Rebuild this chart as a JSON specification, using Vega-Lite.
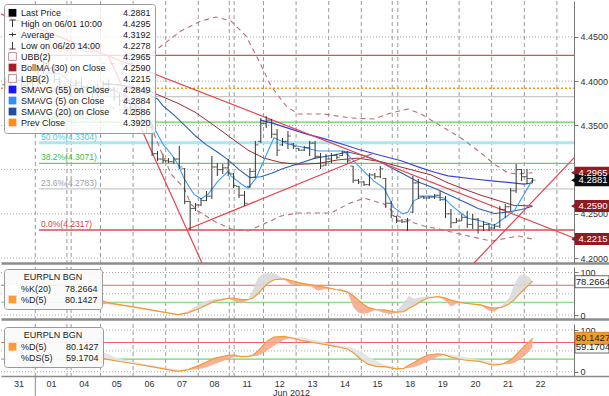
{
"$schema":"https://vega.github.io/schema/vega-lite/v6.json",
"padding":0,
"background":"white",
"spacing":2,
"config":{"view":{"stroke":null},"font":"Liberation Sans","axis":{"labelFont":"Liberation Sans","labelFontSize":9,"labelColor":"#333","titleFont":"Liberation Sans","titleFontSize":9,"titleFontWeight":"normal","titleColor":"#333","domainColor":"#777","tickColor":"#777","grid":false,"labelOverlap":false},"legend":{"labelFont":"Liberation Sans","titleFont":"Liberation Sans"}},
"resolve":{"scale":{"x":"independent","y":"independent","color":"independent","shape":"independent","stroke":"independent","fill":"independent"}},
"datasets":{
"vg":[{"t":1},{"t":1.97},{"t":2.1},{"t":3},{"t":4},{"t":5},{"t":6},{"t":6.95},{"t":7.1},{"t":8},{"t":9},{"t":10},{"t":11},{"t":11.95},{"t":12.12},{"t":13},{"t":14},{"t":15},{"t":16},{"t":17}],
"days":[{"t":0.5,"d":"31"},{"t":1.5,"d":"01"},{"t":2.5,"d":"04"},{"t":3.5,"d":"05"},{"t":4.5,"d":"06"},{"t":5.5,"d":"07"},{"t":6.5,"d":"08"},{"t":7.5,"d":"11"},{"t":8.5,"d":"12"},{"t":9.5,"d":"13"},{"t":10.5,"d":"14"},{"t":11.5,"d":"15"},{"t":12.5,"d":"18"},{"t":13.5,"d":"19"},{"t":14.5,"d":"20"},{"t":15.5,"d":"21"},{"t":16.5,"d":"22"}],
"hg":[{"p":4.2},{"p":4.25},{"p":4.3},{"p":4.35},{"p":4.4},{"p":4.45}],
"sg":[{"v":0},{"v":50},{"v":100}],
"lv":[{"v":70,"z":"hi"},{"v":30,"z":"lo"}],
"fib":[{"lvl":"100.0%","p":4.4291,"lab":"100.0%(4.4291)"},{"lvl":"76.4%","p":4.3825,"lab":"76.4%(4.3825)"},{"lvl":"61.8%","p":4.3537,"lab":"61.8%(4.3537)"},{"lvl":"50.0%","p":4.3304,"lab":"50.0%(4.3304)"},{"lvl":"38.2%","p":4.3071,"lab":"38.2%(4.3071)"},{"lvl":"23.6%","p":4.2783,"lab":"23.6%(4.2783)"},{"lvl":"0.0%","p":4.2317,"lab":"0.0%(4.2317)"}],
"trend":[{"t0":-0.052,"p0":4.476,"t1":17.525,"p1":4.2227},{"t0":3.23,"p0":4.4296,"t1":6.114,"p1":4.1944},{"t0":5.684,"p0":4.2328,"t1":11.39,"p1":4.3188},{"t0":14.457,"p0":4.1944,"t1":17.525,"p1":4.3132}],
"sma5":[{"t":0.75,"v":4.3996},{"t":1.083,"v":4.4016},{"t":1.417,"v":4.4094},{"t":1.75,"v":4.4086},{"t":2.083,"v":4.3992},{"t":2.417,"v":4.394},{"t":2.75,"v":4.3928},{"t":3.083,"v":4.3918},{"t":3.417,"v":4.39},{"t":3.75,"v":4.3832},{"t":4.083,"v":4.3728},{"t":4.25,"v":4.3676},{"t":4.417,"v":4.3616},{"t":4.583,"v":4.3512},{"t":4.75,"v":4.34},{"t":4.917,"v":4.3288},{"t":5.163,"v":4.318},{"t":5.377,"v":4.306},{"t":5.561,"v":4.29},{"t":5.868,"v":4.272},{"t":6.083,"v":4.267},{"t":6.298,"v":4.272},{"t":6.604,"v":4.287},{"t":6.911,"v":4.298},{"t":7.003,"v":4.293},{"t":7.31,"v":4.284},{"t":7.525,"v":4.279},{"t":7.77,"v":4.29},{"t":8.138,"v":4.321},{"t":8.322,"v":4.336},{"t":8.752,"v":4.329},{"t":9.242,"v":4.325},{"t":9.672,"v":4.321},{"t":10.071,"v":4.321},{"t":10.469,"v":4.321},{"t":10.684,"v":4.313},{"t":11.083,"v":4.298},{"t":11.39,"v":4.287},{"t":11.696,"v":4.279},{"t":12.003,"v":4.257},{"t":12.279,"v":4.25},{"t":12.433,"v":4.252},{"t":12.617,"v":4.265},{"t":12.923,"v":4.27},{"t":13.138,"v":4.27},{"t":13.537,"v":4.268},{"t":13.844,"v":4.257},{"t":14.273,"v":4.245},{"t":14.672,"v":4.242},{"t":15.071,"v":4.237},{"t":15.377,"v":4.245},{"t":15.684,"v":4.253},{"t":15.991,"v":4.272},{"t":16.25,"v":4.2884}],
"sma20":[{"t":3.083,"v":4.397},{"t":3.583,"v":4.396},{"t":4.083,"v":4.391},{"t":4.417,"v":4.386},{"t":4.75,"v":4.38},{"t":4.917,"v":4.372},{"t":5.25,"v":4.362},{"t":5.583,"v":4.35},{"t":5.917,"v":4.338},{"t":6.25,"v":4.328},{"t":6.583,"v":4.32},{"t":6.917,"v":4.311},{"t":7.25,"v":4.3},{"t":7.583,"v":4.291},{"t":7.917,"v":4.292},{"t":8.25,"v":4.296},{"t":8.583,"v":4.301},{"t":8.917,"v":4.305},{"t":9.25,"v":4.309},{"t":9.583,"v":4.313},{"t":10.083,"v":4.316},{"t":10.583,"v":4.32},{"t":11.083,"v":4.316},{"t":11.583,"v":4.309},{"t":11.917,"v":4.302},{"t":12.25,"v":4.296},{"t":12.75,"v":4.286},{"t":13.25,"v":4.279},{"t":13.75,"v":4.2705},{"t":14.25,"v":4.262},{"t":14.583,"v":4.256},{"t":15.083,"v":4.2504},{"t":15.5,"v":4.252},{"t":15.917,"v":4.255},{"t":16.25,"v":4.2586}],
"sma55":[{"t":7.917,"v":4.356},{"t":8.322,"v":4.352},{"t":8.75,"v":4.347},{"t":9.25,"v":4.341},{"t":9.856,"v":4.335},{"t":10.4,"v":4.329},{"t":10.9,"v":4.323},{"t":11.6,"v":4.316},{"t":12.22,"v":4.31},{"t":12.83,"v":4.302},{"t":13.25,"v":4.297},{"t":13.66,"v":4.293},{"t":14.46,"v":4.2894},{"t":15.07,"v":4.2871},{"t":15.5,"v":4.2855},{"t":15.99,"v":4.2837},{"t":16.25,"v":4.2849}],
"boll":[{"t":3.015,"v":4.398},{"t":3.936,"v":4.394},{"t":4.549,"v":4.388},{"t":5.377,"v":4.375},{"t":5.9,"v":4.365},{"t":6.482,"v":4.35},{"t":7.0,"v":4.336},{"t":7.525,"v":4.322},{"t":8.015,"v":4.313},{"t":8.537,"v":4.308},{"t":9.058,"v":4.306},{"t":9.672,"v":4.307},{"t":10.285,"v":4.311},{"t":10.899,"v":4.313},{"t":11.604,"v":4.309},{"t":12.31,"v":4.302},{"t":13.138,"v":4.294},{"t":13.66,"v":4.285},{"t":14.15,"v":4.278},{"t":14.672,"v":4.271},{"t":15.2,"v":4.265},{"t":15.684,"v":4.2595},{"t":16.25,"v":4.259}],
"ubb":[{"t":3.015,"v":4.4206},{"t":3.63,"v":4.4195},{"t":4.242,"v":4.4206},{"t":4.856,"v":4.4398},{"t":5.47,"v":4.4568},{"t":6.083,"v":4.4681},{"t":6.543,"v":4.4726},{"t":7.003,"v":4.4681},{"t":7.463,"v":4.4511},{"t":7.862,"v":4.4229},{"t":8.23,"v":4.3946},{"t":8.69,"v":4.372},{"t":9.058,"v":4.3629},{"t":9.856,"v":4.3629},{"t":10.684,"v":4.3584},{"t":11.39,"v":4.3573},{"t":11.911,"v":4.3641},{"t":12.433,"v":4.3686},{"t":12.831,"v":4.3629},{"t":13.445,"v":4.3493},{"t":14.058,"v":4.3358},{"t":14.672,"v":4.3188},{"t":15.071,"v":4.3064},{"t":15.5,"v":4.2962},{"t":15.807,"v":4.2951},{"t":16.25,"v":4.2965}],
"lbb":[{"t":3.015,"v":4.372},{"t":3.936,"v":4.3663},{"t":4.549,"v":4.3493},{"t":4.856,"v":4.3211},{"t":5.163,"v":4.2951},{"t":5.561,"v":4.2792},{"t":5.776,"v":4.2611},{"t":5.991,"v":4.2532},{"t":6.482,"v":4.2419},{"t":7.003,"v":4.2328},{"t":7.525,"v":4.2306},{"t":8.015,"v":4.2385},{"t":8.537,"v":4.2476},{"t":9.058,"v":4.2509},{"t":10.071,"v":4.2509},{"t":10.592,"v":4.2611},{"t":11.083,"v":4.2679},{"t":11.696,"v":4.2611},{"t":12.126,"v":4.2476},{"t":12.433,"v":4.2419},{"t":12.923,"v":4.2362},{"t":13.23,"v":4.234},{"t":14.273,"v":4.225},{"t":14.979,"v":4.2192},{"t":15.5,"v":4.2226},{"t":15.807,"v":4.225},{"t":16.25,"v":4.2215}],
"bars":[
{"t":0.083,"o":4.396,"h":4.404,"l":4.392,"c":4.4},{"t":0.25,"o":4.4,"h":4.408,"l":4.395,"c":4.404},{"t":0.417,"o":4.404,"h":4.41,"l":4.398,"c":4.401},{"t":0.583,"o":4.401,"h":4.403,"l":4.39,"c":4.395},{"t":0.75,"o":4.395,"h":4.4,"l":4.388,"c":4.398},{"t":0.917,"o":4.398,"h":4.406,"l":4.393,"c":4.402},
{"t":1.083,"o":4.402,"h":4.415,"l":4.398,"c":4.412},{"t":1.25,"o":4.412,"h":4.424,"l":4.408,"c":4.42},{"t":1.417,"o":4.42,"h":4.4295,"l":4.41,"c":4.415},{"t":1.583,"o":4.415,"h":4.418,"l":4.398,"c":4.402},{"t":1.75,"o":4.402,"h":4.405,"l":4.39,"c":4.394},{"t":1.917,"o":4.394,"h":4.398,"l":4.385,"c":4.39},
{"t":2.083,"o":4.39,"h":4.398,"l":4.382,"c":4.395},{"t":2.25,"o":4.395,"h":4.402,"l":4.388,"c":4.398},{"t":2.417,"o":4.398,"h":4.404,"l":4.39,"c":4.393},{"t":2.583,"o":4.393,"h":4.396,"l":4.384,"c":4.388},{"t":2.75,"o":4.388,"h":4.393,"l":4.38,"c":4.39},{"t":2.917,"o":4.39,"h":4.397,"l":4.383,"c":4.392},
{"t":3.083,"o":4.392,"h":4.4,"l":4.386,"c":4.396},{"t":3.25,"o":4.396,"h":4.402,"l":4.388,"c":4.39},{"t":3.417,"o":4.39,"h":4.393,"l":4.378,"c":4.382},{"t":3.583,"o":4.382,"h":4.386,"l":4.372,"c":4.378},{"t":3.75,"o":4.378,"h":4.381,"l":4.366,"c":4.37},{"t":3.917,"o":4.37,"h":4.375,"l":4.362,"c":4.368},
{"t":4.083,"o":4.368,"h":4.374,"l":4.36,"c":4.366},{"t":4.25,"o":4.366,"h":4.3776,"l":4.3527,"c":4.356},{"t":4.417,"o":4.356,"h":4.3573,"l":4.3414,"c":4.348},{"t":4.583,"o":4.348,"h":4.3516,"l":4.3154,"c":4.318},{"t":4.75,"o":4.318,"h":4.3211,"l":4.3098,"c":4.312},{"t":4.917,"o":4.312,"h":4.3177,"l":4.3075,"c":4.31},
{"t":5.083,"o":4.31,"h":4.3131,"l":4.3075,"c":4.309},{"t":5.25,"o":4.309,"h":4.3143,"l":4.3064,"c":4.312},{"t":5.417,"o":4.312,"h":4.3267,"l":4.3007,"c":4.303},{"t":5.583,"o":4.301,"h":4.3018,"l":4.2611,"c":4.264},{"t":5.75,"o":4.264,"h":4.2645,"l":4.2317,"c":4.256},{"t":5.917,"o":4.256,"h":4.2623,"l":4.2532,"c":4.26},
{"t":6.083,"o":4.26,"h":4.2679,"l":4.2589,"c":4.265},{"t":6.25,"o":4.265,"h":4.2758,"l":4.2645,"c":4.27},{"t":6.417,"o":4.27,"h":4.3154,"l":4.2668,"c":4.303},{"t":6.583,"o":4.303,"h":4.3075,"l":4.2928,"c":4.3},{"t":6.75,"o":4.3,"h":4.3064,"l":4.2951,"c":4.302},{"t":6.917,"o":4.302,"h":4.312,"l":4.2928,"c":4.296},
{"t":7.083,"o":4.295,"h":4.2962,"l":4.2792,"c":4.282},{"t":7.25,"o":4.281,"h":4.2815,"l":4.2679,"c":4.271},{"t":7.417,"o":4.271,"h":4.2758,"l":4.2589,"c":4.262},{"t":7.583,"o":4.281,"h":4.3018,"l":4.2792,"c":4.298},{"t":7.75,"o":4.298,"h":4.3324,"l":4.2905,"c":4.328},{"t":7.917,"o":4.332,"h":4.3584,"l":4.3301,"c":4.352},
{"t":8.083,"o":4.352,"h":4.3607,"l":4.3471,"c":4.356},{"t":8.25,"o":4.356,"h":4.3573,"l":4.3358,"c":4.34},{"t":8.417,"o":4.34,"h":4.3459,"l":4.3154,"c":4.322},{"t":8.583,"o":4.328,"h":4.3358,"l":4.3267,"c":4.332},{"t":8.75,"o":4.332,"h":4.3437,"l":4.3233,"c":4.338},{"t":8.917,"o":4.329,"h":4.3301,"l":4.3233,"c":4.326},
{"t":9.083,"o":4.324,"h":4.3245,"l":4.3211,"c":4.322},{"t":9.25,"o":4.322,"h":4.3267,"l":4.3211,"c":4.325},{"t":9.417,"o":4.325,"h":4.3324,"l":4.3154,"c":4.33},{"t":9.583,"o":4.33,"h":4.3324,"l":4.312,"c":4.315},{"t":9.75,"o":4.315,"h":4.3188,"l":4.3007,"c":4.304},{"t":9.917,"o":4.305,"h":4.3177,"l":4.3041,"c":4.312},
{"t":10.083,"o":4.312,"h":4.3188,"l":4.3075,"c":4.316},{"t":10.25,"o":4.316,"h":4.3177,"l":4.312,"c":4.314},{"t":10.417,"o":4.316,"h":4.3211,"l":4.3154,"c":4.32},{"t":10.583,"o":4.32,"h":4.3211,"l":4.3075,"c":4.31},{"t":10.75,"o":4.304,"h":4.3041,"l":4.2849,"c":4.288},{"t":10.917,"o":4.288,"h":4.2894,"l":4.2837,"c":4.286},
{"t":11.083,"o":4.286,"h":4.2871,"l":4.2815,"c":4.283},{"t":11.25,"o":4.283,"h":4.2962,"l":4.2815,"c":4.294},{"t":11.417,"o":4.294,"h":4.2962,"l":4.2894,"c":4.292},{"t":11.583,"o":4.292,"h":4.3041,"l":4.2905,"c":4.301},{"t":11.75,"o":4.29,"h":4.2905,"l":4.2566,"c":4.262},{"t":11.917,"o":4.262,"h":4.2645,"l":4.2453,"c":4.248},
{"t":12.083,"o":4.247,"h":4.2476,"l":4.2396,"c":4.242},{"t":12.25,"o":4.242,"h":4.2442,"l":4.2396,"c":4.241},{"t":12.417,"o":4.241,"h":4.2453,"l":4.2306,"c":4.243},{"t":12.583,"o":4.252,"h":4.2928,"l":4.2509,"c":4.285},{"t":12.75,"o":4.285,"h":4.2894,"l":4.2668,"c":4.27},{"t":12.917,"o":4.27,"h":4.2702,"l":4.2668,"c":4.268},
{"t":13.083,"o":4.268,"h":4.2702,"l":4.2668,"c":4.269},{"t":13.25,"o":4.269,"h":4.2724,"l":4.2668,"c":4.271},{"t":13.417,"o":4.271,"h":4.2758,"l":4.2645,"c":4.266},{"t":13.583,"o":4.266,"h":4.2702,"l":4.2453,"c":4.25},{"t":13.75,"o":4.25,"h":4.2555,"l":4.234,"c":4.24},{"t":13.917,"o":4.24,"h":4.2453,"l":4.2396,"c":4.242},
{"t":14.083,"o":4.242,"h":4.2498,"l":4.2419,"c":4.246},{"t":14.25,"o":4.246,"h":4.2532,"l":4.234,"c":4.238},{"t":14.417,"o":4.238,"h":4.2498,"l":4.2328,"c":4.244},{"t":14.583,"o":4.244,"h":4.2453,"l":4.2278,"c":4.236},{"t":14.75,"o":4.236,"h":4.2419,"l":4.2306,"c":4.238},{"t":14.917,"o":4.238,"h":4.2396,"l":4.2306,"c":4.234},
{"t":15.083,"o":4.234,"h":4.2385,"l":4.2328,"c":4.236},{"t":15.25,"o":4.236,"h":4.2589,"l":4.234,"c":4.255},{"t":15.417,"o":4.255,"h":4.2611,"l":4.2453,"c":4.258},{"t":15.583,"o":4.258,"h":4.2792,"l":4.2532,"c":4.276},{"t":15.75,"o":4.276,"h":4.3064,"l":4.2736,"c":4.3},{"t":15.917,"o":4.3,"h":4.3007,"l":4.2871,"c":4.292},
{"t":16.083,"o":4.292,"h":4.3007,"l":4.2837,"c":4.29},{"t":16.25,"o":4.29,"h":4.2905,"l":4.2849,"c":4.2881}],
"stoch":[{"t":2.709,"K":58,"D":62,"DS":66},{"t":2.862,"K":32,"D":48,"DS":60},{"t":3.015,"K":24,"D":35,"DS":52},{"t":3.169,"K":26,"D":30,"DS":44},{"t":3.537,"K":23,"D":25,"DS":32},{"t":4.028,"K":17,"D":19,"DS":23},{"t":4.549,"K":10,"D":12,"DS":16},{"t":5.071,"K":4,"D":5,"DS":9},{"t":5.377,"K":0,"D":1,"DS":5},{"t":5.684,"K":9,"D":5,"DS":4},{"t":6.083,"K":28,"D":17,"DS":7},{"t":6.298,"K":34,"D":25,"DS":12},{"t":6.482,"K":37,"D":32,"DS":18},{"t":6.911,"K":40,"D":39,"DS":30},{"t":7.095,"K":33,"D":40,"DS":35},{"t":7.31,"K":27,"D":36,"DS":38},{"t":7.525,"K":36,"D":36,"DS":38},{"t":7.678,"K":60,"D":40,"DS":37},{"t":7.831,"K":88,"D":50,"DS":38},{"t":7.985,"K":97,"D":63,"DS":44},{"t":8.138,"K":99,"D":75,"DS":52},{"t":8.322,"K":98,"D":83,"DS":62},{"t":8.629,"K":84,"D":85,"DS":76},{"t":8.844,"K":72,"D":81,"DS":82},{"t":9.15,"K":69,"D":75,"DS":83},{"t":9.457,"K":67,"D":71,"DS":78},{"t":9.672,"K":57,"D":68,"DS":74},{"t":9.917,"K":62,"D":65,"DS":70},{"t":10.224,"K":60,"D":60,"DS":65},{"t":10.377,"K":63,"D":58,"DS":62},{"t":10.592,"K":52,"D":54,"DS":59},{"t":10.745,"K":20,"D":46,"DS":56},{"t":10.899,"K":6,"D":36,"DS":51},{"t":11.052,"K":3,"D":26,"DS":45},{"t":11.206,"K":5,"D":18,"DS":37},{"t":11.451,"K":12,"D":13,"DS":26},{"t":11.696,"K":5,"D":12,"DS":17},{"t":11.911,"K":2,"D":9,"DS":13},{"t":12.064,"K":6,"D":7,"DS":11},{"t":12.31,"K":30,"D":8,"DS":9},{"t":12.463,"K":45,"D":16,"DS":9},{"t":12.617,"K":38,"D":22,"DS":11},{"t":12.831,"K":42,"D":32,"DS":17},{"t":13.046,"K":44,"D":40,"DS":25},{"t":13.353,"K":43,"D":43,"DS":36},{"t":13.537,"K":36,"D":41,"DS":40},{"t":13.752,"K":20,"D":35,"DS":41},{"t":13.966,"K":28,"D":31,"DS":38},{"t":14.15,"K":28,"D":28,"DS":35},{"t":14.672,"K":22,"D":24,"DS":28},{"t":14.917,"K":10,"D":18,"DS":25},{"t":15.071,"K":8,"D":16,"DS":22},{"t":15.285,"K":20,"D":18,"DS":19},{"t":15.377,"K":28,"D":20,"DS":18},{"t":15.531,"K":40,"D":26,"DS":18},{"t":15.684,"K":70,"D":35,"DS":21},{"t":15.837,"K":92,"D":48,"DS":28},{"t":15.991,"K":96,"D":60,"DS":37},{"t":16.144,"K":90,"D":71,"DS":48},{"t":16.25,"K":78.2664,"D":80.1427,"DS":59.1704}],
"tags0":[{"p":4.2965,"lab":"4.2965","k":"ubb"},{"p":4.259,"lab":"4.2590","k":"boll"},{"p":4.2215,"lab":"4.2215","k":"lbb"},{"p":4.2881,"lab":"4.2881","k":"last"}],
"tags1":[{"p":78.2664,"lab":"78.2664","k":"K"}],
"tags2":[{"p":59.1704,"lab":"59.1704","k":"DS"},{"p":80.1427,"lab":"80.1427","k":"D"}],
"leg0":[{"e":"Last Price"},{"e":"High on 06/01 10:00"},{"e":"Average"},{"e":"Low on 06/20 14:00"},{"e":"UBB(2)"},{"e":"BollMA (30) on Close"},{"e":"LBB(2)"},{"e":"SMAVG (55) on Close"},{"e":"SMAVG (5) on Close"},{"e":"SMAVG (20) on Close"},{"e":"Prev Close"},{"e":"4.2881"},{"e":"4.4295"},{"e":"4.3192"},{"e":"4.2278"},{"e":"4.2965"},{"e":"4.2590"},{"e":"4.2215"},{"e":"4.2849"},{"e":"4.2884"},{"e":"4.2586"},{"e":"4.3920"}],
"leg1":[{"e":"%K(20)"},{"e":"%D(5)"},{"e":"78.2664"},{"e":"80.1427"}],
"leg2":[{"e":"%D(5)"},{"e":"%DS(5)"},{"e":"80.1427"},{"e":"59.1704"}]
},
"vconcat":[
{
"width":609,"height":262,
"layer":[
{"data":{"name":"vg"},"mark":{"type":"rule","color":"#9a9a9a","strokeDash":[4,3],"strokeWidth":1},
 "encoding":{"x":{"field":"t","type":"quantitative","scale":{"domain":[-0.052,18.629],"nice":false,"zero":false},"axis":{"orient":"bottom","labels":false,"ticks":false,"title":null,"domain":true,"domainColor":"#8c8c8c","domainWidth":2.5,"grid":false}}}},
{"data":{"name":"hg"},"mark":{"type":"rule","color":"#a8a8a8","strokeDash":[1,2],"strokeWidth":1},
 "encoding":{"y":{"field":"p","type":"quantitative","scale":{"domain":[4.1944,4.4907],"nice":false,"zero":false},"axis":{"orient":"right","offset":-36,"values":[4.2,4.25,4.3,4.35,4.4,4.45],"format":".4f","title":null,"tickSize":4,"labelPadding":2,"domainColor":"#777","zindex":0}},"x":{"datum":-0.052},"x2":{"datum":17.525}}},
{"data":{"name":"fib"},"mark":{"type":"rule"},
 "encoding":{"y":{"field":"p","type":"quantitative"},"x":{"datum":1.114},"x2":{"datum":17.525},
  "stroke":{"field":"lvl","type":"nominal","scale":{"domain":["100.0%","76.4%","61.8%","50.0%","38.2%","23.6%","0.0%"],"range":["#e34a4a","#c8c8c8","#5fd35f","#a8e8f2","#5fd35f","#c8c8c8","#e34a4a"]},"legend":null},
  "strokeWidth":{"condition":{"test":"datum.lvl === '50.0%'","value":3},"value":1.3}}},
{"data":{"values":[{"p":4.392}]},"mark":{"type":"rule","color":"#f7941d","strokeDash":[2,2],"strokeWidth":1.3},
 "encoding":{"y":{"field":"p","type":"quantitative"},"x":{"datum":-0.052},"x2":{"datum":17.525}}},
{"data":{"name":"ubb"},"mark":{"type":"line","color":"#b86c7c","strokeDash":[5,4],"strokeWidth":1.1,"clip":true},
 "encoding":{"x":{"field":"t","type":"quantitative"},"y":{"field":"v","type":"quantitative"}}},
{"data":{"name":"lbb"},"mark":{"type":"line","color":"#b86c7c","strokeDash":[5,4],"strokeWidth":1.1,"clip":true},
 "encoding":{"x":{"field":"t","type":"quantitative"},"y":{"field":"v","type":"quantitative"}}},
{"data":{"name":"boll"},"mark":{"type":"line","color":"#9e2a35","strokeWidth":1},
 "encoding":{"x":{"field":"t","type":"quantitative"},"y":{"field":"v","type":"quantitative"}}},
{"data":{"name":"sma55"},"mark":{"type":"line","color":"#3f3fe0","strokeWidth":1.2},
 "encoding":{"x":{"field":"t","type":"quantitative"},"y":{"field":"v","type":"quantitative"}}},
{"data":{"name":"sma20"},"mark":{"type":"line","color":"#2b5fae","strokeWidth":1.1},
 "encoding":{"x":{"field":"t","type":"quantitative"},"y":{"field":"v","type":"quantitative"}}},
{"data":{"name":"sma5"},"mark":{"type":"line","color":"#3d9df5","strokeWidth":1.1},
 "encoding":{"x":{"field":"t","type":"quantitative"},"y":{"field":"v","type":"quantitative"}}},
{"data":{"name":"trend"},"mark":{"type":"rule","color":"#e8414b","strokeWidth":1.2,"clip":true},
 "encoding":{"x":{"field":"t0","type":"quantitative"},"x2":{"field":"t1"},"y":{"field":"p0","type":"quantitative"},"y2":{"field":"p1"}}},
{"data":{"name":"bars"},"mark":{"type":"rule","color":"#333333","strokeWidth":1},
 "encoding":{"x":{"field":"t","type":"quantitative"},"y":{"field":"l","type":"quantitative"},"y2":{"field":"h"}}},
{"data":{"name":"bars"},"mark":{"type":"tick","orient":"horizontal","color":"#333333","size":3,"thickness":1,"xOffset":-1.6},
 "encoding":{"x":{"field":"t","type":"quantitative"},"y":{"field":"o","type":"quantitative"}}},
{"data":{"name":"bars"},"mark":{"type":"tick","orient":"horizontal","color":"#333333","size":3,"thickness":1,"xOffset":1.6},
 "encoding":{"x":{"field":"t","type":"quantitative"},"y":{"field":"c","type":"quantitative"}}},
{"data":{"name":"fib"},"mark":{"type":"text","align":"left","baseline":"bottom","dy":-1,"fontSize":8.5},
 "encoding":{"y":{"field":"p","type":"quantitative"},"x":{"datum":1.175},"text":{"field":"lab"},
  "fill":{"field":"lvl","type":"nominal","scale":{"domain":["100.0%","76.4%","61.8%","50.0%","38.2%","23.6%","0.0%"],"range":["#e06060","#a0a0a0","#40c040","#50c8e0","#40c040","#a0a0a0","#e04040"]},"legend":null}}},
{"data":{"name":"tags0"},"mark":{"type":"point","shape":"triangle-left","filled":true,"size":45,"xOffset":-36,"opacity":1},
 "encoding":{"x":{"value":"width"},"y":{"field":"p","type":"quantitative"},"fill":{"condition":{"test":"datum.k === 'last'","value":"#0d0d0d"},"value":"#8e1b1f"},"stroke":{"value":null}}},
{"data":{"name":"tags0"},"mark":{"type":"rect","xOffset":-35,"x2Offset":0,"yOffset":-6,"y2Offset":6},
 "encoding":{"x":{"value":"width"},"x2":{"value":"width"},"y":{"field":"p","type":"quantitative"},"y2":{"field":"p"},"fill":{"condition":{"test":"datum.k === 'last'","value":"#0d0d0d"},"value":"#8e1b1f"}}},
{"data":{"name":"tags0"},"mark":{"type":"text","xOffset":-17,"fontSize":9.5,"color":"#ffffff"},
 "encoding":{"x":{"value":"width"},"y":{"field":"p","type":"quantitative"},"text":{"field":"lab"}}},
{"data":{"name":"leg0"},"mark":{"type":"point","filled":true,"opacity":0},
 "encoding":{
  "color":{"field":"e","type":"nominal","sort":null,
   "scale":{"domain":["Last Price","High on 06/01 10:00","Average","Low on 06/20 14:00","UBB(2)","BollMA (30) on Close","LBB(2)","SMAVG (55) on Close","SMAVG (5) on Close","SMAVG (20) on Close","Prev Close","4.2881","4.4295","4.3192","4.2278","4.2965","4.2590","4.2215","4.2849","4.2884","4.2586","4.3920"],
    "range":["#000000","transparent","transparent","transparent","#ffffff","#a51d2d","#ffffff","#1515ff","#2f8fff","#1d4fa0","#ff8c1a","transparent","transparent","transparent","transparent","transparent","transparent","transparent","transparent","transparent","transparent","transparent"]},
   "legend":{"orient":"none","legendX":3,"legendY":3,"columns":2,"columnPadding":-6,"rowPadding":-2.5,"title":null,"symbolSize":60,"labelFontSize":9,"labelColor":"#1a1a1a","labelOffset":4,"labelLimit":0,"fillColor":"rgba(255,255,255,0.8)","strokeColor":"#9a9a9a","padding":4,"cornerRadius":3,"symbolOpacity":1,
    "encode":{"symbols":{"update":{"opacity":{"value":1},"strokeWidth":{"value":1},"stroke":{"signal":"indexof(['High on 06/01 10:00','Average','Low on 06/20 14:00'], datum.value) >= 0 ? '#333333' : (indexof(['UBB(2)','LBB(2)'], datum.value) >= 0 ? '#c48a94' : 'transparent')"}}}}}},
  "shape":{"field":"e","type":"nominal","sort":null,
   "scale":{"domain":["Last Price","High on 06/01 10:00","Average","Low on 06/20 14:00","UBB(2)","BollMA (30) on Close","LBB(2)","SMAVG (55) on Close","SMAVG (5) on Close","SMAVG (20) on Close","Prev Close","4.2881","4.4295","4.3192","4.2278","4.2965","4.2590","4.2215","4.2849","4.2884","4.2586","4.3920"],
    "range":["square","M-0.8,-0.9L0.8,-0.9M0,-0.9L0,0.9","M-0.9,0L0.9,0M0,-0.5L0,0.5","M0,-0.9L0,0.9M-0.8,0.9L0.8,0.9","square","square","square","square","square","square","square","square","square","square","square","square","square","square","square","square","square","square"]},
   "legend":{"orient":"none","legendX":3,"legendY":3,"columns":2,"columnPadding":-6,"rowPadding":-2.5,"title":null,"symbolSize":60,"labelFontSize":9,"labelColor":"#1a1a1a","labelOffset":4,"labelLimit":0,"fillColor":"rgba(255,255,255,0.8)","strokeColor":"#9a9a9a","padding":4,"cornerRadius":3,"symbolOpacity":1}}
 }}
]
},
{
"width":609,"height":52,
"layer":[
{"data":{"name":"vg"},"mark":{"type":"rule","color":"#9a9a9a","strokeDash":[4,3],"strokeWidth":1},
 "encoding":{"x":{"field":"t","type":"quantitative","scale":{"domain":[-0.052,18.629],"nice":false,"zero":false},"axis":{"orient":"bottom","labels":false,"ticks":false,"title":null,"domain":true,"domainColor":"#8c8c8c","domainWidth":2.5,"grid":false}}}},
{"data":{"name":"sg"},"mark":{"type":"rule","color":"#a8a8a8","strokeDash":[1,2],"strokeWidth":1},
 "encoding":{"y":{"field":"v","type":"quantitative","scale":{"domain":[-9.4,112.9],"nice":false,"zero":false},"axis":{"orient":"right","offset":-36,"values":[0,50,100],"title":null,"tickSize":4,"labelPadding":2,"domainColor":"#777","zindex":0}},"x":{"datum":-0.052},"x2":{"datum":17.525}}},
{"data":{"name":"lv"},"mark":{"type":"rule","strokeWidth":1.2},
 "encoding":{"y":{"field":"v","type":"quantitative"},"x":{"datum":-0.052},"x2":{"datum":17.525},"stroke":{"condition":{"test":"datum.z === 'hi'","value":"#f26464"},"value":"#6ad66a"}}},
{"data":{"name":"stoch"},"transform":[{"fold":["K","D"]},{"aggregate":[{"op":"min","field":"value","as":"lo"},{"op":"max","field":"value","as":"hi"},{"op":"max","field":"D","as":"dd"}],"groupby":["t"]}],
 "mark":{"type":"area","color":"#f6a98c","opacity":0.9},
 "encoding":{"x":{"field":"t","type":"quantitative"},"y":{"field":"dd","type":"quantitative"},"y2":{"field":"lo"}}},
{"data":{"name":"stoch"},"transform":[{"fold":["K","D"]},{"aggregate":[{"op":"min","field":"value","as":"lo"},{"op":"max","field":"value","as":"hi"},{"op":"max","field":"D","as":"dd"}],"groupby":["t"]}],
 "mark":{"type":"area","color":"#d9d9d9","opacity":0.9},
 "encoding":{"x":{"field":"t","type":"quantitative"},"y":{"field":"hi","type":"quantitative"},"y2":{"field":"dd"}}},
{"data":{"name":"stoch"},"mark":{"type":"line","color":"#f39a34","strokeWidth":1.2},
 "encoding":{"x":{"field":"t","type":"quantitative"},"y":{"field":"D","type":"quantitative"}}},
{"data":{"name":"tags1"},"mark":{"type":"rect","xOffset":-35,"x2Offset":-1,"yOffset":-6,"y2Offset":6,"fill":"#ffffff","stroke":"#444444","strokeWidth":0.8},
 "encoding":{"x":{"value":"width"},"x2":{"value":"width"},"y":{"field":"p","type":"quantitative"},"y2":{"field":"p"}}},
{"data":{"name":"tags1"},"mark":{"type":"text","xOffset":-17,"fontSize":9.5,"color":"#222222"},
 "encoding":{"x":{"value":"width"},"y":{"field":"p","type":"quantitative"},"text":{"field":"lab"}}},
{"data":{"name":"leg1"},"mark":{"type":"point","filled":true,"opacity":0,"shape":"square"},
 "encoding":{"color":{"field":"e","type":"nominal","sort":null,
  "scale":{"domain":["%K(20)","%D(5)","78.2664","80.1427"],"range":["#ffffff","#ff9a2e","transparent","transparent"]},
  "legend":{"orient":"none","legendX":3,"legendY":2,"columns":2,"columnPadding":-2,"rowPadding":1,"title":"EURPLN BGN","titleFontSize":9,"titleFontWeight":"normal","titleColor":"#1a1a1a","titleAnchor":"middle","titlePadding":2,"symbolType":"square","symbolSize":60,"symbolStrokeWidth":0,"symbolOpacity":1,"labelFontSize":9,"labelColor":"#1a1a1a","labelOffset":4,"fillColor":"rgba(250,250,250,0.92)","strokeColor":"#9a9a9a","padding":4,"cornerRadius":3,
   "encode":{"symbols":{"update":{"opacity":{"value":1}}}}}}}}
]
},
{
"width":609,"height":52,
"layer":[
{"data":{"name":"vg"},"mark":{"type":"rule","color":"#9a9a9a","strokeDash":[4,3],"strokeWidth":1},
 "encoding":{"x":{"field":"t","type":"quantitative","scale":{"domain":[-0.052,18.629],"nice":false,"zero":false},
  "axis":{"orient":"bottom","labels":false,"ticks":false,"title":"Jun 2012","titlePadding":12,"titleX":290,"titleFontSize":9,"domain":true,"domainColor":"#8c8c8c","domainWidth":1.5,"grid":false}}}},
{"data":{"values":[{"t":1}]},"mark":{"type":"rule","color":"#8a8a8a","strokeWidth":1},
 "encoding":{"x":{"field":"t","type":"quantitative"},"y":{"datum":-10.3},"y2":{"datum":-58}}},
{"data":{"name":"days"},"mark":{"type":"text","fontSize":9,"color":"#333333","baseline":"middle","dy":8},
 "encoding":{"x":{"field":"t","type":"quantitative"},"y":{"value":"height"},"text":{"field":"d"}}},
{"data":{"name":"sg"},"mark":{"type":"rule","color":"#a8a8a8","strokeDash":[1,2],"strokeWidth":1},
 "encoding":{"y":{"field":"v","type":"quantitative","scale":{"domain":[-10.3,114.4],"nice":false,"zero":false},"axis":{"orient":"right","offset":-36,"values":[0,50,100],"title":null,"tickSize":4,"labelPadding":2,"domainColor":"#777","zindex":0}},"x":{"datum":-0.052},"x2":{"datum":17.525}}},
{"data":{"name":"lv"},"mark":{"type":"rule","strokeWidth":1.2},
 "encoding":{"y":{"field":"v","type":"quantitative"},"x":{"datum":-0.052},"x2":{"datum":17.525},"stroke":{"condition":{"test":"datum.z === 'hi'","value":"#f26464"},"value":"#6ad66a"}}},
{"data":{"name":"stoch"},"transform":[{"fold":["DS","D"]},{"aggregate":[{"op":"min","field":"value","as":"lo"},{"op":"max","field":"value","as":"hi"},{"op":"max","field":"D","as":"dd"}],"groupby":["t"]}],
 "mark":{"type":"area","color":"#f6a98c","opacity":0.9},
 "encoding":{"x":{"field":"t","type":"quantitative"},"y":{"field":"dd","type":"quantitative"},"y2":{"field":"lo"}}},
{"data":{"name":"stoch"},"transform":[{"fold":["DS","D"]},{"aggregate":[{"op":"min","field":"value","as":"lo"},{"op":"max","field":"value","as":"hi"},{"op":"max","field":"D","as":"dd"}],"groupby":["t"]}],
 "mark":{"type":"area","color":"#e3e3e3","opacity":0.9},
 "encoding":{"x":{"field":"t","type":"quantitative"},"y":{"field":"hi","type":"quantitative"},"y2":{"field":"dd"}}},
{"data":{"name":"stoch"},"mark":{"type":"line","color":"#f39a34","strokeWidth":1.2},
 "encoding":{"x":{"field":"t","type":"quantitative"},"y":{"field":"D","type":"quantitative"}}},
{"data":{"name":"tags2"},"mark":{"type":"rect","xOffset":-35,"x2Offset":-1,"yOffset":-6,"y2Offset":6,"strokeWidth":0.8},
 "encoding":{"x":{"value":"width"},"x2":{"value":"width"},"y":{"field":"p","type":"quantitative"},"y2":{"field":"p"},
  "fill":{"condition":{"test":"datum.k === 'D'","value":"#f59b2a"},"value":"#ffffff"},"stroke":{"condition":{"test":"datum.k === 'D'","value":"#c87818"},"value":"#444444"}}},
{"data":{"name":"tags2"},"mark":{"type":"text","xOffset":-17,"fontSize":9.5,"color":"#222222"},
 "encoding":{"x":{"value":"width"},"y":{"field":"p","type":"quantitative"},"text":{"field":"lab"}}},
{"data":{"name":"leg2"},"mark":{"type":"point","filled":true,"opacity":0,"shape":"square"},
 "encoding":{"color":{"field":"e","type":"nominal","sort":null,
  "scale":{"domain":["%D(5)","%DS(5)","80.1427","59.1704"],"range":["#ff9a2e","#ffffff","transparent","transparent"]},
  "legend":{"orient":"none","legendX":3,"legendY":3,"columns":2,"columnPadding":-2,"rowPadding":1,"title":"EURPLN BGN","titleFontSize":9,"titleFontWeight":"normal","titleColor":"#1a1a1a","titleAnchor":"middle","titlePadding":2,"symbolType":"square","symbolSize":60,"symbolStrokeWidth":0,"symbolOpacity":1,"labelFontSize":9,"labelColor":"#1a1a1a","labelOffset":4,"fillColor":"rgba(250,250,250,0.92)","strokeColor":"#9a9a9a","padding":4,"cornerRadius":3,
   "encode":{"symbols":{"update":{"opacity":{"value":1}}}}}}}}
]
}
]
}
